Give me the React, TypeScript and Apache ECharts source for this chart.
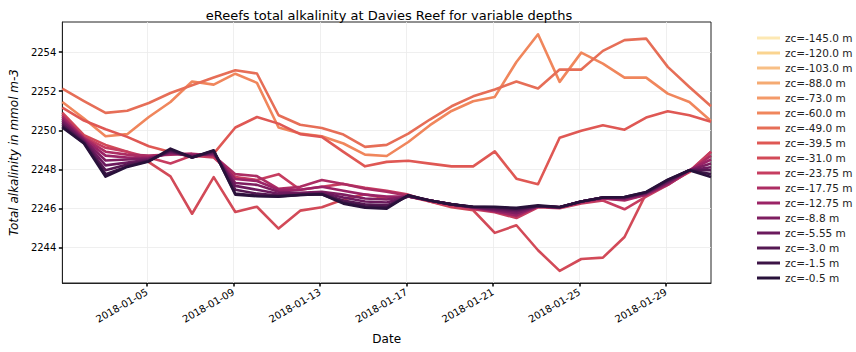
import React, { useEffect, useRef } from "react";
import * as echarts from "echarts";

// Daily sample times (UTC)
const times: string[] = [
  "2018-01-01T02:00:00Z", "2018-01-02T02:00:00Z", "2018-01-03T02:00:00Z", "2018-01-04T02:00:00Z",
  "2018-01-05T02:00:00Z", "2018-01-06T02:00:00Z", "2018-01-07T02:00:00Z", "2018-01-08T02:00:00Z",
  "2018-01-09T02:00:00Z", "2018-01-10T02:00:00Z", "2018-01-11T02:00:00Z", "2018-01-12T02:00:00Z",
  "2018-01-13T02:00:00Z", "2018-01-14T02:00:00Z", "2018-01-15T02:00:00Z", "2018-01-16T02:00:00Z",
  "2018-01-17T02:00:00Z", "2018-01-18T02:00:00Z", "2018-01-19T02:00:00Z", "2018-01-20T02:00:00Z",
  "2018-01-21T02:00:00Z", "2018-01-22T02:00:00Z", "2018-01-23T02:00:00Z", "2018-01-24T02:00:00Z",
  "2018-01-25T02:00:00Z", "2018-01-26T02:00:00Z", "2018-01-27T02:00:00Z", "2018-01-28T02:00:00Z",
  "2018-01-29T02:00:00Z", "2018-01-30T02:00:00Z", "2018-01-31T02:00:00Z",
];
const tickDates: string[] = ["2018-01-05", "2018-01-09", "2018-01-13", "2018-01-17", "2018-01-21", "2018-01-25", "2018-01-29"];
const yTicks: number[] = [2244, 2246, 2248, 2250, 2252, 2254];

const depths: string[] = [
  "-145.0", "-120.0", "-103.0", "-88.0", "-73.0", "-60.0", "-49.0", "-39.5", "-31.0",
  "-23.75", "-17.75", "-12.75", "-8.8", "-5.55", "-3.0", "-1.5", "-0.5",
];
const colors: string[] = [
  "#fde8b3", "#fad490", "#f8bf85", "#f5aa72", "#f49a69", "#f0865c", "#e66e57", "#df5854", "#d24a58",
  "#c63d60", "#ac2d63", "#9b2366", "#7e1e60", "#6b1a5d", "#551852", "#3c1446", "#28113a",
];

// Total alkalinity (mmol m-3) per depth; deeper layers have no data at this site
const alk_145: number[] = [];
const alk_120: number[] = [];
const alk_103: number[] = [];
const alk_88: number[] = [];
const alk_73: number[] = [];
const alk_60: number[] = [
  2251.45, 2250.6, 2249.69, 2249.8, 2250.68, 2251.45, 2252.5, 2252.34, 2252.9, 2252.43,
  2250.14, 2249.83, 2249.69, 2249.32, 2248.75, 2248.68, 2249.4, 2250.26, 2250.99, 2251.49,
  2251.71, 2253.5, 2254.92, 2252.48, 2253.98, 2253.42, 2252.7, 2252.7, 2251.88, 2251.45, 2250.48,
];
const alk_49: number[] = [
  2252.14, 2251.5, 2250.89, 2251.0, 2251.4, 2251.91, 2252.31, 2252.7, 2253.08, 2252.91,
  2250.77, 2250.28, 2250.12, 2249.78, 2249.15, 2249.25, 2249.83, 2250.55, 2251.23, 2251.74,
  2252.09, 2252.5, 2252.14, 2253.11, 2253.11, 2254.07, 2254.62, 2254.7, 2253.25, 2252.22, 2251.23,
];
const alk_39_5: number[] = [
  2251.16, 2250.5, 2250.05, 2249.66, 2249.18, 2248.89, 2248.63, 2248.8, 2250.14, 2250.68,
  2250.34, 2249.8, 2249.66, 2248.89, 2248.15, 2248.38, 2248.44, 2248.29, 2248.15, 2248.15,
  2248.92, 2247.52, 2247.23, 2249.62, 2249.97, 2250.26, 2250.03, 2250.65, 2250.97, 2250.77, 2250.44,
];
const alk_31: number[] = [
  2250.9, 2249.75, 2249.25, 2248.9, 2248.37, 2247.64, 2245.72, 2247.6, 2245.81, 2246.08,
  2244.96, 2245.88, 2246.05, 2246.45, 2246.72, 2246.5, 2246.6, 2246.35, 2246.05, 2245.9,
  2244.74, 2245.13, 2243.85, 2242.79, 2243.4, 2243.47, 2244.53, 2246.75, 2247.25, 2247.85, 2248.9,
];
const alk_23_75: number[] = [
  2250.8, 2249.65, 2249.1, 2248.9, 2248.6, 2248.3, 2248.7, 2248.6, 2247.6, 2247.45,
  2247.75, 2246.95, 2247.1, 2247.25, 2247.05, 2246.9, 2246.7, 2246.35, 2246.1, 2245.95,
  2245.8, 2245.5, 2246.05, 2246.0, 2246.25, 2246.4, 2245.95, 2246.6, 2247.2, 2247.9, 2248.9,
];
const alk_17_75: number[] = [
  2250.7, 2249.6, 2248.9, 2248.75, 2248.7, 2248.75, 2248.8, 2248.7, 2247.75, 2247.65,
  2247.0, 2247.1, 2247.45, 2247.25, 2247.0, 2246.85, 2246.65, 2246.4, 2246.2, 2246.0,
  2245.85, 2245.6, 2246.1, 2246.05, 2246.3, 2246.5, 2246.4, 2246.7, 2247.2, 2247.9, 2248.7,
];
const alk_12_75: number[] = [
  2250.6, 2249.55, 2248.7, 2248.6, 2248.6, 2248.8, 2248.75, 2248.75, 2247.5, 2247.4,
  2246.95, 2246.95, 2247.1, 2246.9, 2246.7, 2246.6, 2246.6, 2246.4, 2246.2, 2246.05,
  2245.85, 2245.65, 2246.1, 2246.05, 2246.35, 2246.5, 2246.45, 2246.7, 2247.25, 2247.95, 2248.5,
];
const alk_8_8: number[] = [
  2250.5, 2249.5, 2248.45, 2248.5, 2248.55, 2248.85, 2248.7, 2248.8, 2247.3, 2247.2,
  2246.85, 2246.8, 2246.85, 2246.7, 2246.5, 2246.45, 2246.6, 2246.4, 2246.2, 2246.05,
  2245.9, 2245.75, 2246.1, 2246.05, 2246.35, 2246.55, 2246.5, 2246.75, 2247.3, 2247.95, 2248.3,
];
const alk_5_55: number[] = [
  2250.4, 2249.45, 2248.2, 2248.35, 2248.5, 2248.9, 2248.65, 2248.85, 2247.15, 2246.95,
  2246.75, 2246.75, 2246.8, 2246.55, 2246.35, 2246.3, 2246.6, 2246.4, 2246.2, 2246.05,
  2245.95, 2245.85, 2246.1, 2246.05, 2246.35, 2246.55, 2246.52, 2246.78, 2247.35, 2247.95, 2248.1,
];
const alk_3_0: number[] = [
  2250.3, 2249.4, 2247.95, 2248.25, 2248.45, 2248.95, 2248.6, 2248.9, 2246.95, 2246.75,
  2246.65, 2246.7, 2246.75, 2246.4, 2246.2, 2246.15, 2246.62, 2246.4, 2246.2, 2246.05,
  2246.0, 2245.92, 2246.1, 2246.05, 2246.35, 2246.55, 2246.55, 2246.8, 2247.4, 2247.95, 2247.95,
];
const alk_1_5: number[] = [
  2250.2, 2249.35, 2247.75, 2248.15, 2248.42, 2249.0, 2248.6, 2248.95, 2246.75, 2246.65,
  2246.62, 2246.68, 2246.72, 2246.3, 2246.1, 2246.05, 2246.65, 2246.4, 2246.2, 2246.08,
  2246.05, 2245.98, 2246.12, 2246.05, 2246.35, 2246.55, 2246.58, 2246.82, 2247.45, 2247.95, 2247.75,
];
const alk_0_5: number[] = [
  2250.14, 2249.32, 2247.62, 2248.12, 2248.4, 2249.06, 2248.6, 2248.97, 2246.7, 2246.62,
  2246.6, 2246.68, 2246.72, 2246.24, 2246.03, 2245.98, 2246.67, 2246.4, 2246.2, 2246.08,
  2246.08, 2246.02, 2246.15, 2246.07, 2246.35, 2246.55, 2246.58, 2246.84, 2247.47, 2247.95, 2247.6,
];

const seriesValues: number[][] = [
  alk_145, alk_120, alk_103, alk_88, alk_73, alk_60, alk_49, alk_39_5, alk_31,
  alk_23_75, alk_17_75, alk_12_75, alk_8_8, alk_5_55, alk_3_0, alk_1_5, alk_0_5,
];

const DAY = 86400000;
const T0 = Date.parse("2018-01-01T00:00:00Z");
const toDays = (s: string) => (Date.parse(s) - T0) / DAY;
const pad = (n: number) => (n < 10 ? "0" + n : "" + n);
const fmtDate = (d: number) => {
  const dt = new Date(T0 + d * DAY);
  return dt.getUTCFullYear() + "-" + pad(dt.getUTCMonth() + 1) + "-" + pad(dt.getUTCDate());
};

const FONT = "DejaVu Sans";

export default function App() {
  const ref = useRef<HTMLDivElement>(null);
  useEffect(() => {
    if (!ref.current) return;
    const chart = echarts.init(ref.current, undefined, { renderer: "svg" });
    const xs = times.map(toDays);
    const xTickVals = tickDates.map((s) => toDays(s + "T00:00:00Z"));
    const names = depths.map((d) => "zc=" + d + " m");
    chart.setOption({
      animation: false,
      backgroundColor: "#ffffff",
      textStyle: { fontFamily: FONT },
      title: {
        text: "eReefs total alkalinity at Davies Reef for variable depths",
        left: 384,
        top: 4,
        textAlign: "center",
        textStyle: { fontFamily: FONT, fontSize: 13, fontWeight: "normal", color: "#000" },
      },
      legend: {
        orient: "vertical",
        left: 752,
        top: 27,
        icon: "rect",
        itemWidth: 23,
        itemHeight: 3,
        itemGap: 3,
        data: names,
        textStyle: { fontFamily: FONT, fontSize: 10.5, color: "#222", lineHeight: 12 },
      },
      grid: {
        left: 57,
        top: 22,
        right: 145,
        bottom: 69,
        show: true,
        borderColor: "#222",
        borderWidth: 1,
        backgroundColor: "transparent",
      },
      xAxis: {
        type: "value",
        min: xs[0],
        max: xs[xs.length - 1],
        name: "Date",
        nameLocation: "middle",
        nameGap: 50,
        nameTextStyle: { fontFamily: FONT, fontSize: 12, color: "#000" },
        axisLine: { show: true, lineStyle: { color: "#222", width: 1 } },
        axisTick: {
          show: true,
          customValues: xTickVals,
          length: 3.5,
          lineStyle: { color: "#000", width: 1.5 },
        },
        axisLabel: {
          customValues: xTickVals,
          rotate: 30,
          fontFamily: FONT,
          fontSize: 10,
          color: "#000",
          margin: 8,
          formatter: (v: number) => fmtDate(v),
        },
        splitLine: { show: true, lineStyle: { color: "#ebebeb", width: 0.8 } },
      },
      yAxis: {
        type: "value",
        min: 2242.17,
        max: 2255.55,
        name: "Total alkalinity in mmol m-3",
        nameLocation: "middle",
        nameGap: 38,
        nameTextStyle: { fontFamily: FONT, fontSize: 12, fontStyle: "italic", color: "#000" },
        axisLine: { show: true, lineStyle: { color: "#222", width: 1 } },
        axisTick: {
          show: true,
          customValues: yTicks,
          length: 3.5,
          lineStyle: { color: "#000", width: 1.5 },
        },
        axisLabel: {
          customValues: yTicks,
          fontFamily: FONT,
          fontSize: 10,
          color: "#000",
          margin: 6,
          formatter: (v: number) => String(v),
        },
        splitLine: { show: true, lineStyle: { color: "#ebebeb", width: 0.8 } },
      },
      series: seriesValues.map((vals, si) => ({
        name: names[si],
        type: "line",
        color: colors[si],
        symbol: "none",
        showSymbol: false,
        lineStyle: { width: 2.6, color: colors[si], join: "round" },
        data: vals.map((v, i) => [xs[i], v]),
      })),
    });
    return () => chart.dispose();
  }, []);
  return (
    <div
      ref={ref}
      style={{ position: "fixed", left: 0, top: 0, width: 856, height: 352, background: "#fff" }}
    />
  );
}
